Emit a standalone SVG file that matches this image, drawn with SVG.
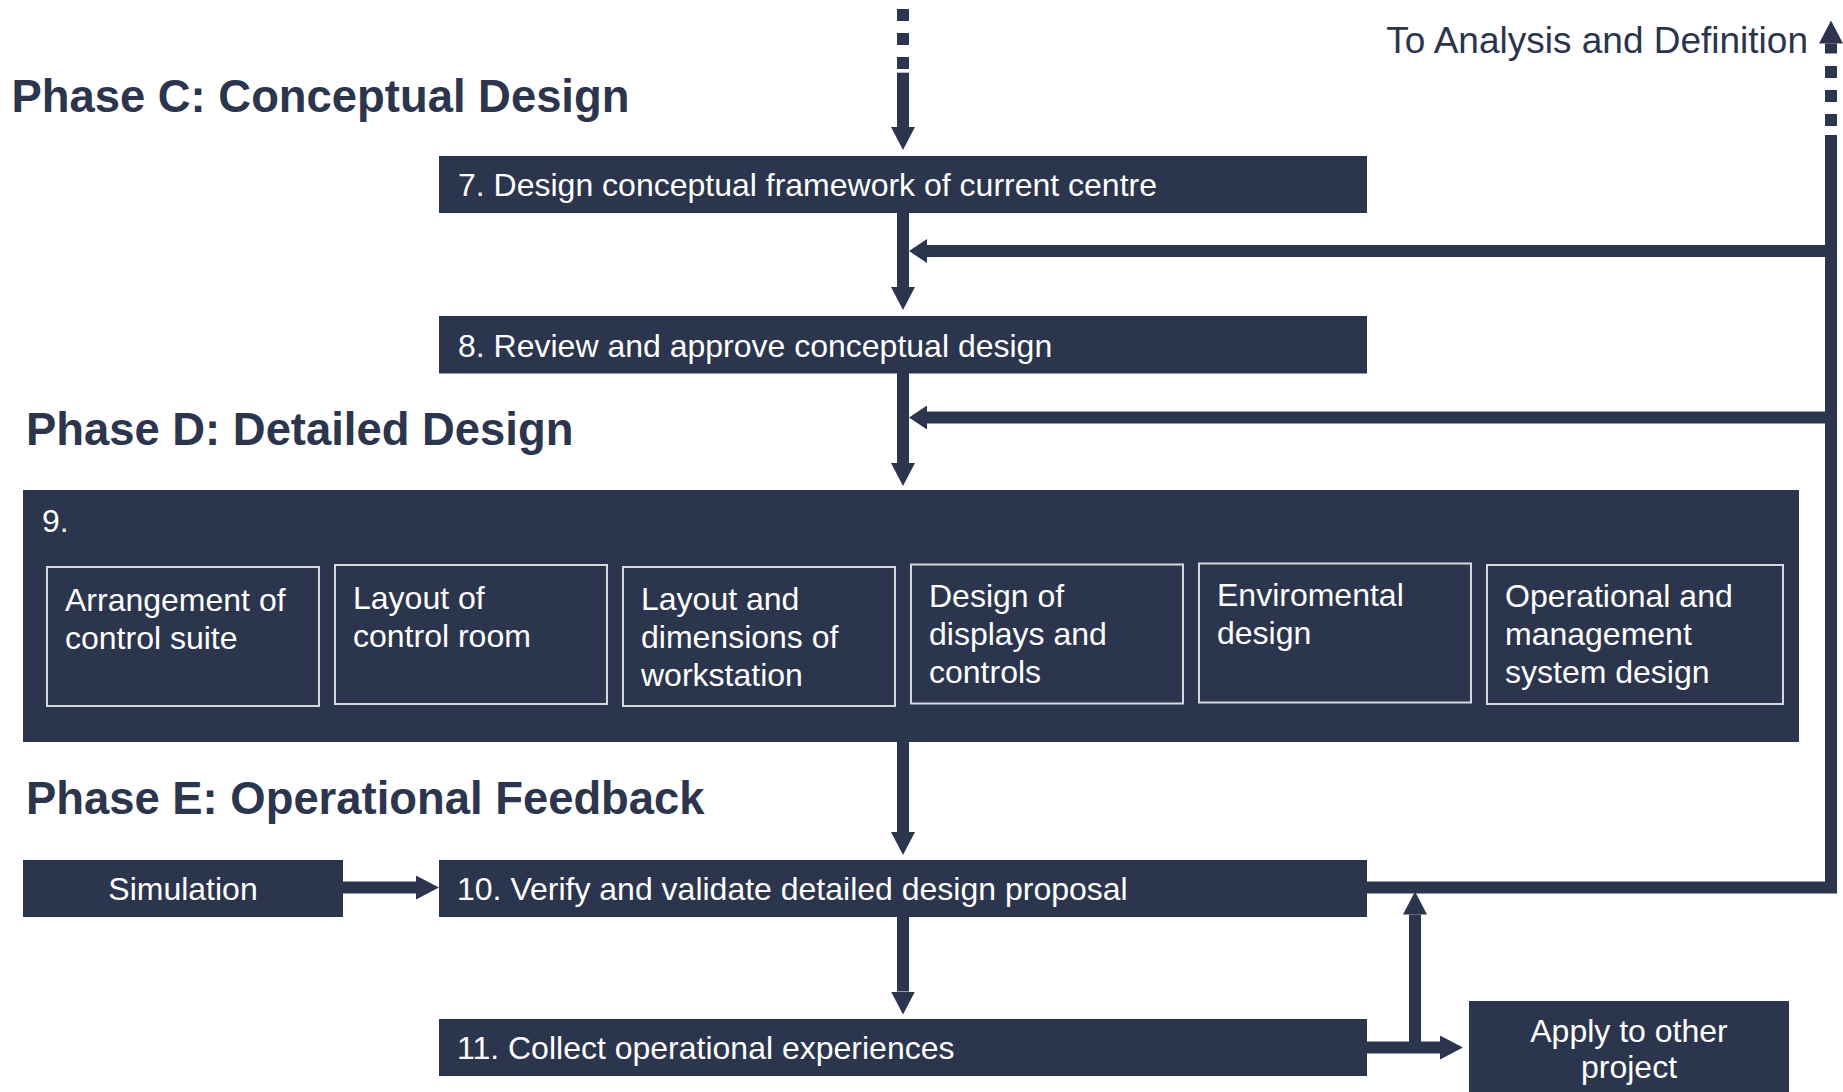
<svg xmlns="http://www.w3.org/2000/svg" width="1843" height="1092" viewBox="0 0 1843 1092">
  <style>
    .box { fill: #2b354e; }
    .sub { fill: #2b354e; stroke: #d6d9e0; stroke-width: 2; }
    .lbl { font-family: "Liberation Sans", Arial, sans-serif; font-size: 32px; fill: #ffffff; }
    .phase { font-family: "Liberation Sans", Arial, sans-serif; font-size: 45.4px; font-weight: bold; fill: #2b354e; }
    .note { font-family: "Liberation Sans", Arial, sans-serif; font-size: 37px; fill: #2b354e; }
    .wire { fill: none; stroke: #2b354e; stroke-width: 12; stroke-linejoin: miter; stroke-linecap: butt; }
    .dash { stroke-dasharray: 12 12; }
  </style>
  <defs>
    <marker id="arrow" markerUnits="userSpaceOnUse" viewBox="0 0 23 24" markerWidth="23" markerHeight="24" refX="0" refY="12" orient="auto">
      <path d="M0,0 L23,12 L0,24 z" fill="#2b354e"/>
    </marker>
    <marker id="arrow-short" markerUnits="userSpaceOnUse" viewBox="0 0 18 24" markerWidth="18" markerHeight="24" refX="0" refY="12" orient="auto">
      <path d="M0,0 L18,12 L0,24 z" fill="#2b354e"/>
    </marker>
  </defs>

  <rect width="1843" height="1092" fill="#ffffff"/>

  <!-- phase headings -->
  <text class="phase" x="11.5" y="112">Phase C: Conceptual Design</text>
  <text class="phase" x="26" y="444.5">Phase D: Detailed Design</text>
  <text class="phase" x="26" y="813.5">Phase E: Operational Feedback</text>
  <text class="note" x="1808" y="52.5" text-anchor="end">To Analysis and Definition</text>

  <!-- connectors -->
  <g id="connectors">
    <!-- incoming from previous phase -->
    <path class="wire dash" d="M903,9 V69"/>
    <path class="wire" d="M903,72.7 V127" marker-end="url(#arrow)"/>
    <!-- 7 -> 8 -->
    <path class="wire" d="M903,213 V287" marker-end="url(#arrow)"/>
    <!-- 8 -> 9 -->
    <path class="wire" d="M903,373 V463" marker-end="url(#arrow)"/>
    <!-- 9 -> 10 -->
    <path class="wire" d="M903,741 V832" marker-end="url(#arrow)"/>
    <!-- 10 -> 11 -->
    <path class="wire" d="M903,917 V991.5" marker-end="url(#arrow)"/>
    <!-- Simulation -> 10 -->
    <path class="wire" d="M343,887.5 H416" marker-end="url(#arrow)"/>
    <!-- feedback loop from 10 up the right side -->
    <path class="wire" d="M1366,887.5 H1831 V135"/>
    <path class="wire dash" d="M1831,126 V66"/>
    <path class="wire" d="M1831,53.5 V43.5" marker-end="url(#arrow)"/>
    <!-- feedback returns into steps 8 and 9 -->
    <path class="wire" d="M1831,251 H927" marker-end="url(#arrow-short)"/>
    <path class="wire" d="M1831,417.5 H927" marker-end="url(#arrow-short)"/>
    <!-- 11 -> apply to other project -->
    <path class="wire" d="M1366,1047.5 H1440" marker-end="url(#arrow)"/>
    <!-- 11 -> back into loop -->
    <path class="wire" d="M1415,1053 V914.5" marker-end="url(#arrow)"/>
  </g>

  <g id="step7">
    <rect class="box" x="439" y="156" width="928" height="57"/>
    <text class="lbl" x="458" y="196">7. Design conceptual framework of current centre</text>
  </g>

  <g id="step8">
    <rect class="box" x="439" y="316" width="928" height="57.5"/>
    <text class="lbl" x="458" y="356.5">8. Review and approve conceptual design</text>
  </g>

  <g id="step9">
    <rect class="box" x="23" y="490" width="1776" height="252"/>
    <text class="lbl" x="42" y="532">9.</text>
  </g>

  <g id="arrangement">
    <rect class="sub" x="47" y="567" width="272" height="139"/>
    <text class="lbl" x="65" y="611"><tspan x="65">Arrangement of</tspan><tspan x="65" dy="38">control suite</tspan></text>
  </g>

  <g id="room-layout">
    <rect class="sub" x="335" y="565" width="272" height="139"/>
    <text class="lbl" x="353" y="608.5"><tspan x="353">Layout of</tspan><tspan x="353" dy="38">control room</tspan></text>
  </g>

  <g id="workstation">
    <rect class="sub" x="623" y="567" width="272" height="139"/>
    <text class="lbl" x="641" y="609.5"><tspan x="641">Layout and</tspan><tspan x="641" dy="38">dimensions of</tspan><tspan x="641" dy="38">workstation</tspan></text>
  </g>

  <g id="displays">
    <rect class="sub" x="911" y="564.5" width="272" height="139"/>
    <text class="lbl" x="929" y="607"><tspan x="929">Design of</tspan><tspan x="929" dy="38">displays and</tspan><tspan x="929" dy="38">controls</tspan></text>
  </g>

  <g id="environmental">
    <rect class="sub" x="1199" y="563.5" width="272" height="139"/>
    <text class="lbl" x="1217" y="605.5"><tspan x="1217">Enviromental</tspan><tspan x="1217" dy="38">design</tspan></text>
  </g>

  <g id="management">
    <rect class="sub" x="1487" y="565" width="296" height="139"/>
    <text class="lbl" x="1505" y="607"><tspan x="1505">Operational and</tspan><tspan x="1505" dy="38">management</tspan><tspan x="1505" dy="38">system design</tspan></text>
  </g>

  <g id="simulation">
    <rect class="box" x="23" y="860" width="320" height="57"/>
    <text class="lbl" x="183" y="900" text-anchor="middle">Simulation</text>
  </g>

  <g id="step10">
    <rect class="box" x="439" y="860" width="928" height="57"/>
    <text class="lbl" x="457" y="900">10. Verify and validate detailed design proposal</text>
  </g>

  <g id="step11">
    <rect class="box" x="439" y="1019" width="928" height="57"/>
    <text class="lbl" x="457" y="1059">11. Collect operational experiences</text>
  </g>

  <g id="apply">
    <rect class="box" x="1469" y="1001" width="320" height="95"/>
    <text class="lbl" x="1629" y="1041.5" text-anchor="middle">Apply to other</text>
    <text class="lbl" x="1629" y="1078" text-anchor="middle">project</text>
  </g>
</svg>
